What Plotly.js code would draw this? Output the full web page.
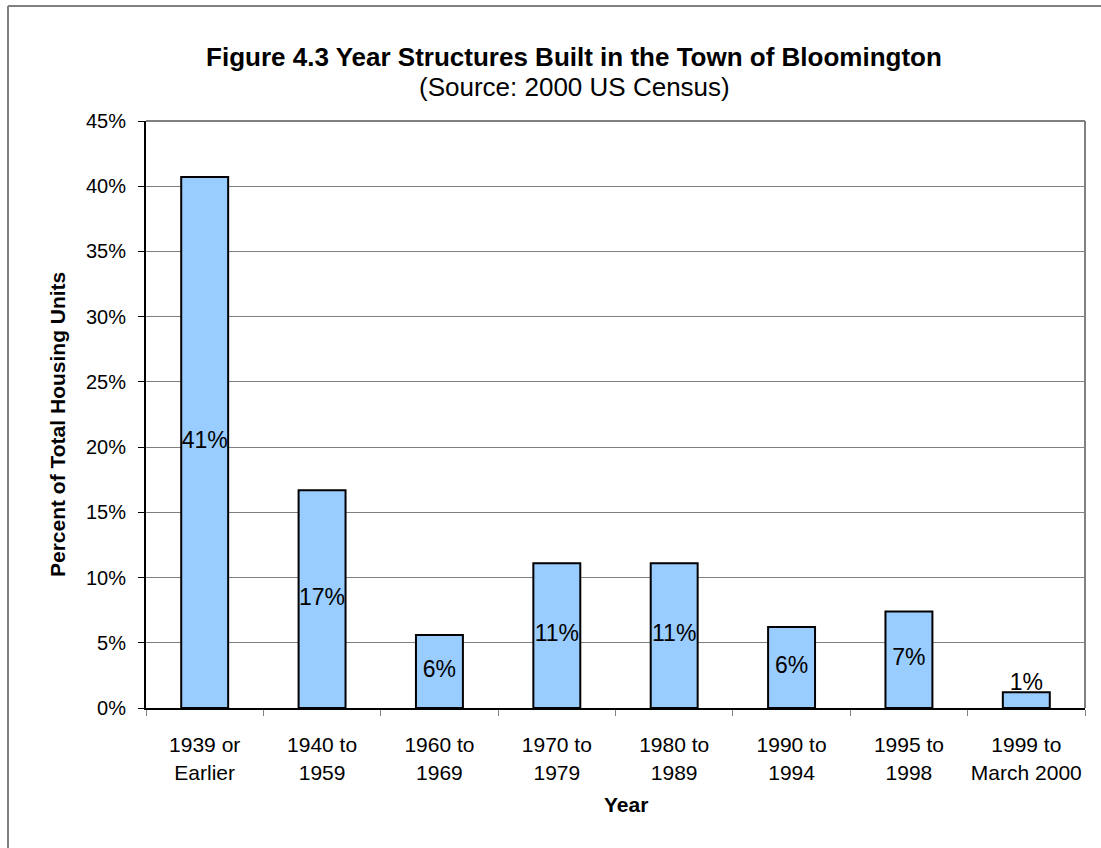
<!DOCTYPE html>
<html>
<head>
<meta charset="utf-8">
<script src="https://cdn.plot.ly/plotly-3.0.1.min.js"></script>
<style>html,body{margin:0;padding:0;background:#fff;}#chart{width:1101px;height:848px;}</style>
</head>
<body>
<div id="chart"></div>
<script>
var categories = ["1939 or<br>Earlier", "1940 to<br>1959", "1960 to<br>1969", "1970 to<br>1979", "1980 to<br>1989", "1990 to<br>1994", "1995 to<br>1998", "1999 to<br>March 2000"];
var percentValues = [40.7, 16.7, 5.6, 11.1, 11.1, 6.2, 7.4, 1.2];
var valueLabels = ["41%", "17%", "6%", "11%", "11%", "6%", "7%", "1%"];
var yTickValues = [0, 5, 10, 15, 20, 25, 30, 35, 40, 45];
var yTickLabels = ["0%", "5%", "10%", "15%", "20%", "25%", "30%", "35%", "40%", "45%"];
var chartTitle = "Figure 4.3 Year Structures Built in the Town of Bloomington";
var chartSubtitle = "(Source: 2000 US Census)";
var yTitle = "Percent of Total Housing Units";
var xTitle = "Year";

var labelY = percentValues.map(function (v) { return Math.max(v / 2, 1.8); });

var font = "Liberation Sans, Arial, sans-serif";
var H = 587, W = 939;

var bars = {
  type: "bar",
  x: categories,
  y: percentValues,
  width: 0.4,
  marker: { color: "#99CCFF", line: { color: "#000000", width: 2 } },
  hoverinfo: "x+y",
  showlegend: false
};

var labels = {
  type: "scatter",
  mode: "text",
  x: categories,
  y: labelY,
  text: valueLabels,
  textposition: "middle center",
  textfont: { family: font, size: 23, color: "#000000" },
  hoverinfo: "skip",
  showlegend: false,
  cliponaxis: false
};

var layout = {
  width: 1101,
  height: 848,
  margin: { l: 146, r: 16, t: 121, b: 140 },
  paper_bgcolor: "#ffffff",
  plot_bgcolor: "#ffffff",
  font: { family: font, color: "#000000" },
  title: {
    text: "<b>" + chartTitle + "</b>",
    font: { family: font, size: 26, color: "#000000" },
    x: (574 - 146) / W, xref: "paper", xanchor: "center",
    y: 1 - 57 / 848, yref: "container", yanchor: "middle"
  },
  annotations: [
    { text: chartSubtitle, xref: "paper", yref: "paper", x: (574 - 146) / W, y: 1 + (121 - 87) / H,
      xanchor: "center", yanchor: "middle", showarrow: false, font: { family: font, size: 26, color: "#000000" } },
    { text: "<b>" + yTitle + "</b>", xref: "paper", yref: "paper", x: (57 - 146) / W, y: (708 - 425) / H,
      xanchor: "center", yanchor: "middle", textangle: -90, showarrow: false, font: { family: font, size: 21, color: "#000000" } },
    { text: "<b>" + xTitle + "</b>", xref: "paper", yref: "paper", x: (626 - 146) / W, y: -(804 - 708) / H,
      xanchor: "center", yanchor: "middle", showarrow: false, font: { family: font, size: 21, color: "#000000" } }
  ],
  xaxis: {
    type: "category",
    range: [-0.5, 7.5],
    tickson: "boundaries",
    ticks: "outside",
    ticklen: 6,
    tickcolor: "#808080",
    tickangle: 0,
    showline: true,
    linecolor: "#000000",
    linewidth: 2,
    showgrid: false,
    ticklabelstandoff: 17,
    tickfont: { family: font, size: 21, color: "#000000" },
    fixedrange: true
  },
  yaxis: {
    range: [0, 45],
    tickvals: yTickValues,
    ticktext: yTickLabels,
    ticks: "outside",
    ticklen: 6,
    tickcolor: "#000000",
    showline: true,
    linecolor: "#000000",
    linewidth: 2,
    showgrid: true,
    gridcolor: "#808080",
    gridwidth: 1,
    zeroline: false,
    ticklabelstandoff: 8,
    tickfont: { family: font, size: 20, color: "#000000" },
    fixedrange: true
  },
  shapes: [
    { type: "line", xref: "paper", yref: "paper", x0: 0, x1: 1, y0: 1, y1: 1, line: { color: "#808080", width: 2 } },
    { type: "line", xref: "paper", yref: "paper", x0: 1, x1: 1, y0: 0, y1: 1, line: { color: "#808080", width: 2 } },
    { type: "line", xref: "paper", yref: "paper", x0: (8 - 146) / W, x1: 1.02, y0: 1 + (121 - 6) / H, y1: 1 + (121 - 6) / H, line: { color: "#808080", width: 2 } },
    { type: "line", xref: "paper", yref: "paper", x0: (8 - 146) / W, x1: (8 - 146) / W, y0: -0.25, y1: 1 + (121 - 6) / H, line: { color: "#808080", width: 2 } }
  ],
  bargap: 0.6
};

Plotly.newPlot("chart", [bars, labels], layout, { displayModeBar: false });
</script>
</body>
</html>
